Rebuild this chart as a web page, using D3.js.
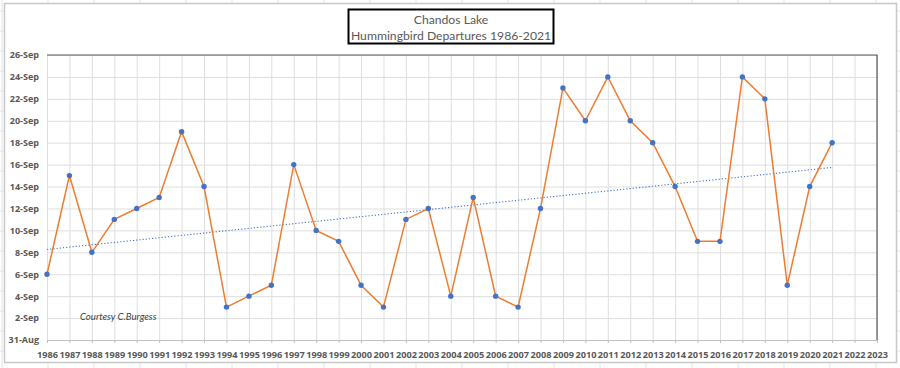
<!DOCTYPE html>
<html>
<head>
<meta charset="utf-8">
<script src="https://cdn.jsdelivr.net/npm/d3@7"></script>
<style>
  body { margin: 0; background: #fff; }
  svg { display: block; }
</style>
</head>
<body>
<div id="vis"></div>
<script>
// frame
const FRAME_WIDTH = 900;
const FRAME_HEIGHT = 368;
const PLOT = {left: 47, right: 877, top: 55, bottom: 340};

// data: departure date as day offset from 31-Aug
const YEARS = [1986, 1987, 1988, 1989, 1990, 1991, 1992, 1993, 1994, 1995, 1996, 1997,
               1998, 1999, 2000, 2001, 2002, 2003, 2004, 2005, 2006, 2007, 2008, 2009,
               2010, 2011, 2012, 2013, 2014, 2015, 2016, 2017, 2018, 2019, 2020, 2021];
const DAYS = [6, 15, 8, 11, 12, 13, 19, 14, 3, 4, 5, 16,
              10, 9, 5, 3, 11, 12, 4, 13, 4, 3, 12, 23,
              20, 24, 20, 18, 14, 9, 9, 24, 22, 5, 14, 18];

// axis ticks
const X_TICKS = d3.range(1986, 2024);
const Y_TICKS = [0, 2, 4, 6, 8, 10, 12, 14, 16, 18, 20, 22, 24, 26];
const Y_LABELS = ["31-Aug", "2-Sep", "4-Sep", "6-Sep", "8-Sep", "10-Sep", "12-Sep",
                  "14-Sep", "16-Sep", "18-Sep", "20-Sep", "22-Sep", "24-Sep", "26-Sep"];

const TITLE = ["Chandos Lake", "Hummingbird Departures 1986-2021"];
const NOTE = "Courtesy C.Burgess";

const AXIS_FONT = "'Open Sans', sans-serif";
const TEXT_FONT = "Lato, 'Open Sans', sans-serif";

const svg = d3.select("#vis")
  .append("svg")
    .attr("width", FRAME_WIDTH)
    .attr("height", FRAME_HEIGHT);

// spreadsheet cells behind the chart
const bg = svg.append("g");
bg.selectAll("line.col")
  .data(d3.range(2, FRAME_WIDTH, 46))
  .enter().append("line")
    .attr("x1", d => d).attr("x2", d => d)
    .attr("y1", 0).attr("y2", FRAME_HEIGHT)
    .attr("stroke", "#e4e4e4");
bg.selectAll("line.row")
  .data(d3.range(11, FRAME_HEIGHT, 20))
  .enter().append("line")
    .attr("x1", 0).attr("x2", FRAME_WIDTH)
    .attr("y1", d => d).attr("y2", d => d)
    .attr("stroke", "#e4e4e4");

// chart area
svg.append("rect")
  .attr("x", 4.5).attr("y", 3.5)
  .attr("width", 892).attr("height", 359)
  .attr("fill", "#fff")
  .attr("stroke", "#c8c8c8")
  .attr("stroke-width", 1.5);

const X_SCALE = d3.scaleLinear().domain([1986, 2023]).range([PLOT.left, PLOT.right]);
const Y_SCALE = d3.scaleLinear().domain([0, 26]).range([PLOT.bottom, PLOT.top]);

// gridlines
svg.append("g")
  .attr("transform", "translate(0," + PLOT.bottom + ")")
  .call(d3.axisBottom(X_SCALE).tickValues(X_TICKS).tickSize(-(PLOT.bottom - PLOT.top)).tickFormat(""))
  .call(g => g.select(".domain").remove())
  .call(g => g.selectAll("line").attr("stroke", "#dedede"));

svg.append("g")
  .attr("transform", "translate(" + PLOT.left + ",0)")
  .call(d3.axisLeft(Y_SCALE).tickValues(Y_TICKS).tickSize(-(PLOT.right - PLOT.left)).tickFormat(""))
  .call(g => g.select(".domain").remove())
  .call(g => g.selectAll("line").attr("stroke", "#dedede"));

// x axis with labels
svg.append("g")
  .attr("transform", "translate(0," + PLOT.bottom + ")")
  .call(d3.axisBottom(X_SCALE).tickValues(X_TICKS).tickFormat(d3.format("d")).tickSize(3).tickPadding(8))
  .call(g => g.select(".domain").attr("stroke", "#bfbfbf"))
  .call(g => g.selectAll("line").attr("stroke", "#bfbfbf"))
  .call(g => g.selectAll("text")
    .attr("fill", "#595959")
    .attr("font-family", AXIS_FONT)
    .attr("font-weight", "bold")
    .attr("font-size", "9.2px"));

// y axis labels
svg.append("g")
  .attr("transform", "translate(" + PLOT.left + ",0)")
  .call(d3.axisLeft(Y_SCALE).tickValues(Y_TICKS).tickFormat((d, i) => Y_LABELS[i]).tickSize(0).tickPadding(8))
  .call(g => g.select(".domain").remove())
  .call(g => g.selectAll("text")
    .attr("fill", "#595959")
    .attr("font-family", AXIS_FONT)
    .attr("font-weight", "bold")
    .attr("font-size", "9px"));

// dark top and right border of the plot area
svg.append("path")
  .attr("d", "M" + PLOT.left + "," + PLOT.top + "H" + PLOT.right + "V" + PLOT.bottom)
  .attr("fill", "none")
  .attr("stroke", "#595959")
  .attr("stroke-width", 1.2);

// linear trendline (least squares, like Excel)
const xm = d3.mean(YEARS), ym = d3.mean(DAYS);
const slope = d3.sum(YEARS, (x, i) => (x - xm) * (DAYS[i] - ym)) / d3.sum(YEARS, x => (x - xm) * (x - xm));
const intercept = ym - slope * xm;
const trendEnds = [YEARS[0], YEARS[YEARS.length - 1]];
svg.append("line")
  .attr("x1", X_SCALE(trendEnds[0])).attr("y1", Y_SCALE(intercept + slope * trendEnds[0]))
  .attr("x2", X_SCALE(trendEnds[1])).attr("y2", Y_SCALE(intercept + slope * trendEnds[1]))
  .attr("stroke", "#4472C4")
  .attr("stroke-width", 1.1)
  .attr("stroke-dasharray", "1.2,2");

// series line
const line = d3.line()
  .x((d, i) => X_SCALE(YEARS[i]))
  .y(d => Y_SCALE(d));
svg.append("path")
  .datum(DAYS)
  .attr("d", line)
  .attr("fill", "none")
  .attr("stroke", "#ED7D31")
  .attr("stroke-width", 1.5);

// markers
svg.selectAll("circle.point")
  .data(DAYS)
  .enter()
  .append("circle")
    .attr("class", "point")
    .attr("cx", (d, i) => X_SCALE(YEARS[i]))
    .attr("cy", d => Y_SCALE(d))
    .attr("r", 2.7)
    .attr("fill", "#4472C4");

// title box
svg.append("rect")
  .attr("x", 348.5).attr("y", 9.5)
  .attr("width", 205).attr("height", 34)
  .attr("fill", "#fff")
  .attr("stroke", "#000")
  .attr("stroke-width", 2);

svg.selectAll("text.title")
  .data(TITLE)
  .enter()
  .append("text")
    .attr("class", "title")
    .attr("x", 451)
    .attr("y", (d, i) => 24 + i * 15.5)
    .attr("text-anchor", "middle")
    .attr("fill", "#595959")
    .attr("font-family", TEXT_FONT)
    .attr("font-size", "12.2px")
    .text(d => d);

// note
svg.append("text")
  .attr("x", 80)
  .attr("y", 320)
  .attr("fill", "#404040")
  .attr("font-family", TEXT_FONT)
  .attr("font-style", "italic")
  .attr("font-size", "9.6px")
  .text(NOTE);
</script>
</body>
</html>
